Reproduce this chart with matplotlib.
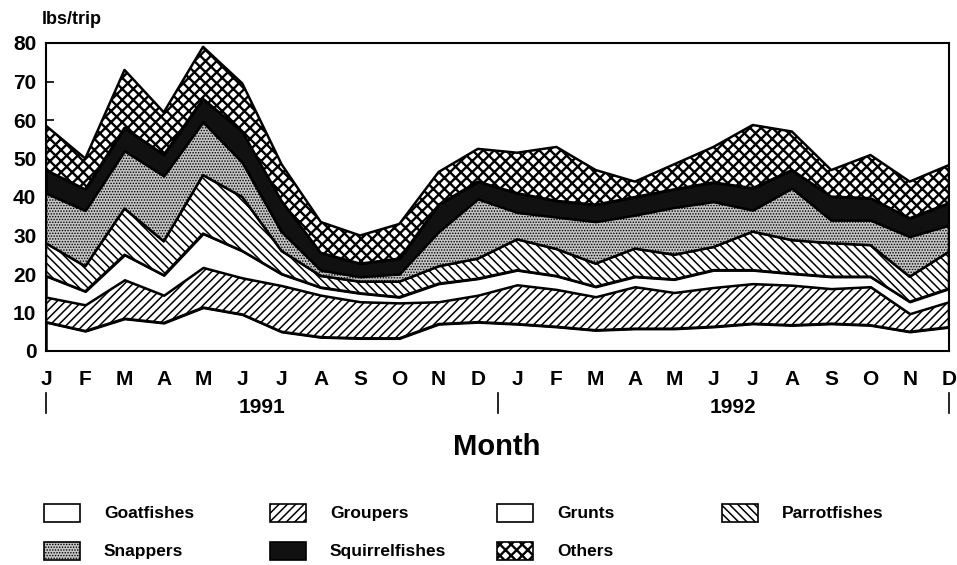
import numpy as np
import matplotlib
matplotlib.use("Agg")
import matplotlib.pyplot as plt
from matplotlib.patches import Rectangle
from matplotlib.transforms import blended_transform_factory

# month ticks, two years
months = ["J", "F", "M", "A", "M", "J", "J", "A", "S", "O", "N", "D"] * 2
years = ["1991", "1992"]

# lbs/trip by group, J 1991 .. D 1992
goatfishes = [7.5, 5.2, 8.4, 7.3, 11.3, 9.5, 5.0, 3.6, 3.3, 3.3, 7.0, 7.5,
              7.0, 6.3, 5.4, 5.8, 5.8, 6.3, 7.1, 6.7, 7.1, 6.7, 5.0, 6.2]
groupers = [6.5, 6.8, 10.1, 7.2, 10.4, 9.5, 12.0, 10.9, 9.5, 9.2, 5.8, 7.0,
            10.2, 9.7, 8.7, 10.9, 9.4, 10.2, 10.4, 10.4, 9.1, 10.0, 4.7, 6.6]
grunts = [5.5, 3.5, 6.5, 5.2, 8.8, 7.0, 3.0, 2.0, 2.2, 1.5, 4.7, 4.3,
          3.8, 3.5, 2.6, 2.6, 3.4, 4.5, 3.5, 3.0, 3.1, 2.6, 3.1, 3.4]
parrotfishes = [8.5, 6.5, 12.0, 8.8, 15.2, 14.0, 6.0, 3.0, 3.0, 4.0, 4.5, 5.2,
                8.0, 7.0, 6.0, 7.3, 6.4, 6.0, 10.0, 8.7, 8.7, 8.2, 6.5, 9.6]
snappers = [13.0, 14.5, 15.0, 17.0, 13.8, 9.0, 5.0, 1.5, 1.3, 2.0, 9.0, 15.5,
            7.0, 8.3, 10.9, 8.7, 12.3, 11.8, 5.6, 13.5, 6.0, 6.5, 10.4, 6.9]
squirrelfishes = [6.0, 5.5, 6.0, 5.5, 6.0, 8.0, 8.0, 4.5, 3.4, 4.0, 7.0, 4.5,
                  5.0, 4.2, 4.4, 4.7, 4.7, 5.0, 5.7, 4.7, 6.1, 5.7, 4.8, 5.7]
others = [11.5, 8.0, 15.0, 11.0, 13.5, 12.5, 9.5, 8.0, 7.3, 9.0, 8.5, 8.5,
          10.5, 14.0, 9.0, 4.0, 6.5, 9.2, 16.4, 10.0, 6.9, 11.2, 9.5, 9.9]

names = ["Goatfishes", "Groupers", "Grunts", "Parrotfishes",
         "Snappers", "Squirrelfishes", "Others"]
series = [goatfishes, groupers, grunts, parrotfishes,
          snappers, squirrelfishes, others]

# fill, hatch, hatch line width
styles = [("white", None, 1.0),
          ("white", "////", 1.1),
          ("white", None, 1.0),
          ("white", "\\\\\\\\", 1.1),
          ("#c4c4c4", "......", 0.7),
          ("#111111", None, 1.0),
          ("white", "xxx", 1.7)]

W, H = 957, 565
plt.rcParams["font.family"] = ["Liberation Sans", "DejaVu Sans"]
plt.rcParams["font.weight"] = "bold"

fig = plt.figure(figsize=(W / 100, H / 100), dpi=100)
ax = fig.add_axes([46 / W, 1 - 351 / H, (949 - 46) / W, (351 - 43) / H])

x = np.arange(len(months))
base = np.zeros(len(x))
for vals, (fc, hatch, hlw) in zip(series, styles):
    top = base + np.array(vals)
    with plt.rc_context({"hatch.linewidth": hlw}):
        ax.fill_between(x, base, top, facecolor=fc, hatch=hatch,
                        edgecolor="black", linewidth=1.8, zorder=2)
    base = top

ax.set_xlim(0, 23)
ax.set_ylim(0, 80)
ax.set_yticks(range(0, 81, 10))
ax.set_xticks(x)
ax.set_xticklabels(months, fontsize=15, fontweight="bold")
ax.tick_params(axis="x", direction="in", length=7, width=1.2, pad=14)
ax.tick_params(axis="y", direction="in", length=6, width=1.2, pad=7,
               labelsize=15)
for s in ax.spines.values():
    s.set_linewidth(1.5)

fig.text(42 / W, 1 - 19 / H, "lbs/trip", fontsize=13, fontweight="bold",
         ha="left", va="center")

# year brackets under the month letters
tr = blended_transform_factory(ax.transData, ax.transAxes)
for xs in [0, 11.5, 23]:
    ax.plot([xs, xs], [-0.135, -0.2], color="black", lw=1.2,
            transform=tr, clip_on=False)
for i, yr in enumerate(years):
    ax.text(5.5 + 12 * i, -0.185, yr, transform=tr, ha="center", va="center",
            fontsize=15, fontweight="bold")

fig.text(497 / W, 1 - 447 / H, "Month", fontsize=21, fontweight="bold",
         ha="center", va="center")

# legend, laid out as in the original (4 + 3)
col_x = [44, 270, 497, 722]
row_y = [513, 551]
for i, (name, (fc, hatch, hlw)) in enumerate(zip(names, styles)):
    r, c = divmod(i, 4)
    px, py = col_x[c], row_y[r]
    with plt.rc_context({"hatch.linewidth": hlw}):
        rect = Rectangle((px / W, 1 - (py + 9) / H), 36 / W, 18 / H,
                         transform=fig.transFigure, facecolor=fc, hatch=hatch,
                         edgecolor="black", linewidth=1.2)
    fig.add_artist(rect)
    fig.text((px + 60) / W, 1 - (py + 5) / H, name, fontsize=12.5,
             fontweight="bold", ha="left", va="baseline")

fig.savefig("out.png", dpi=100)
